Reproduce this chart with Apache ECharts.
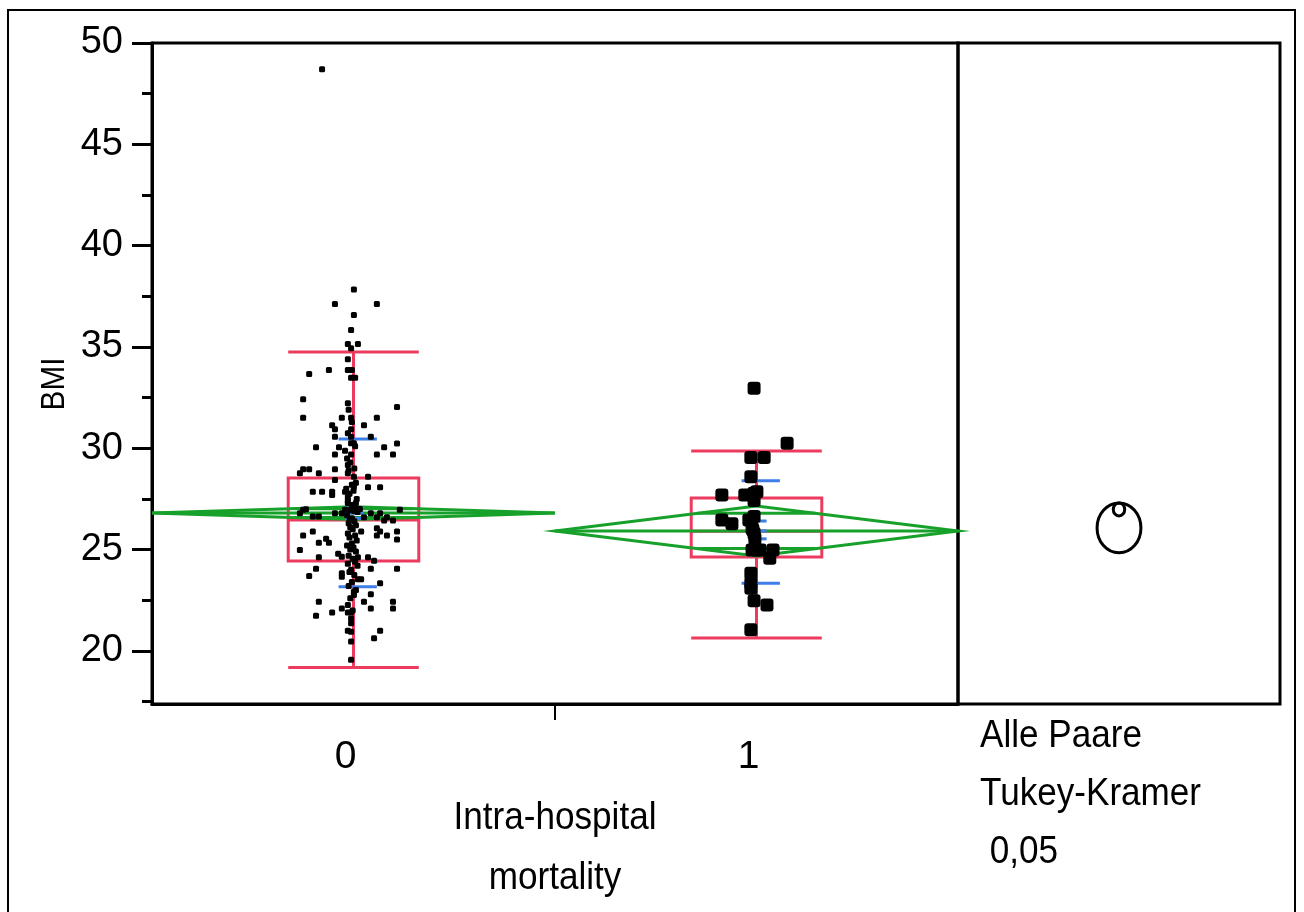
<!DOCTYPE html>
<html><head><meta charset="utf-8">
<script src="https://cdn.jsdelivr.net/npm/echarts@6/dist/echarts.min.js"></script>
<style>html,body{margin:0;padding:0;background:#fff}#c{width:1304px;height:912px}</style>
</head><body><div id="c"></div>
<script>
// ---------- data ----------
const categories = ['0', '1'];
const yTickValues = [20, 25, 30, 35, 40, 45, 50];
const yMinorTickValues = [17.5, 22.5, 27.5, 32.5, 37.5, 42.5, 47.5];
const boxLow = [19.18, 20.64];
const boxQ1 = [24.44, 24.64];
const boxMedian = [26.46, 25.9];
const boxQ3 = [28.53, 27.55];
const boxHigh = [34.75, 29.87];
const groupMeans = [26.8, 25.92];
const meanCIHalf = [0.31, 1.23];
const sdUpper = [30.46, 28.4];
const sdLower = [23.17, 23.34];
const seUpper = [27.06, 26.41];
const seLower = [26.54, 25.53];
const circleCenters = [26.98, 26.07];
const circleRadii = [0.32, 1.23];
const yTitle = 'BMI';
const xTitleLines = ['Intra-hospital', 'mortality'];
const panelLines = ['Alle Paare', 'Tukey-Kramer', ' 0,05'];

// group 0 points: jitter (category units) and BMI
const g0Jitter = [-0.078,0.001,-0.046,0.058,0.001,-0.006,-0.014,0.011,-0.006,-0.014,
  -0.110,-0.061,-0.014,-0.004,-0.006,0.004,-0.125,0.108,-0.014,-0.125,
  -0.029,-0.006,0.058,-0.053,-0.046,-0.006,0.026,-0.046,-0.014,-0.006,
  0.043,-0.093,-0.036,-0.006,0.001,0.108,0.076,-0.046,-0.021,-0.006,
  0.058,0.098,-0.125,-0.110,-0.133,-0.086,-0.046,-0.014,0.036,-0.046,
  -0.014,0.001,-0.101,-0.078,-0.053,-0.053,-0.021,-0.014,0.001,0.036,
  0.066,-0.014,-0.004,0.006,0.016,-0.125,-0.118,-0.133,-0.101,-0.086,
  -0.046,-0.029,-0.021,-0.009,0.001,0.026,0.043,0.058,0.066,0.076,
  0.083,0.098,0.115,-0.101,-0.125,-0.086,-0.068,-0.061,-0.133,0.019,
  0.058,0.066,0.058,0.083,0.108,0.108,-0.038,-0.029,-0.086,0.011,
  0.036,0.051,-0.093,-0.110,0.043,0.108,-0.029,-0.029,0.011,0.019,
  0.066,0.001,0.001,0.043,-0.086,0.026,0.098,0.098,-0.014,-0.029,
  -0.053,-0.093,-0.014,-0.006,0.043,-0.006,-0.014,-0.006,0.066,0.051,
  -0.006,-0.006,
  -0.012,-0.004,0.004,-0.016,-0.008,0.002,-0.012,0.006,-0.004,-0.018,
  0.000,-0.010,0.008,-0.014,-0.002,0.004,-0.008,0.010,-0.016,-0.004,
  0.002,-0.012,0.006,-0.008,-0.002,-0.014,0.004,-0.010,0.008,-0.004,
  -0.016,0.000,-0.008,0.006,-0.012,-0.002,0.004,-0.014,0.010,-0.006,
  -0.010,0.002,-0.004,-0.012,0.006,-0.008,-0.002,-0.006];
const g0Values = [48.71,37.84,37.12,37.12,36.58,35.84,35.15,35.15,34.93,34.39,
  33.67,33.86,33.86,33.86,33.48,33.48,32.42,32.04,32.22,31.51,
  31.51,31.51,31.51,31.13,30.94,30.94,31.13,30.57,30.74,30.57,
  30.57,30.05,30.05,30.25,30.25,30.23,30.05,29.69,29.88,29.69,
  29.69,29.69,28.96,28.96,28.77,28.77,28.96,29.18,28.6,28.44,
  28.77,28.6,27.86,27.86,27.86,27.7,27.86,27.6,28.11,28.08,
  28.08,27.3,27.1,27.3,27.0,26.96,26.99,26.79,26.63,26.63,
  26.79,26.79,26.96,26.5,26.9,26.6,26.79,26.6,26.79,26.43,
  26.6,26.43,26.96,25.89,25.69,25.34,25.53,25.34,24.98,25.89,
  26.05,25.89,25.69,25.69,25.89,25.5,24.8,24.65,24.62,24.62,
  24.62,24.45,24.06,23.7,24.06,24.06,23.83,23.66,23.54,23.54,
  23.34,22.92,22.76,22.8,22.43,22.43,22.43,22.09,22.26,22.09,
  21.89,21.73,21.89,21.89,22.09,21.37,21.0,20.95,21.0,20.63,
  20.46,19.56,
  31.9,31.3,30.1,29.5,29.3,29.0,28.9,28.3,28.2,28.0,
  27.9,27.75,27.5,27.4,27.2,27.05,26.95,26.85,26.7,26.55,
  26.4,26.3,26.2,26.1,26.0,25.8,25.7,25.6,25.45,25.3,
  25.2,25.1,25.0,24.9,24.7,24.55,24.4,24.3,24.2,24.0,
  23.9,23.75,23.4,23.2,23.0,22.6,22.0,21.6];
// group 1 points
const g1Jitter = [-0.006,0.076,-0.014,0.019,-0.014,-0.086,-0.029,-0.006,0.001,-0.006,
  -0.086,-0.061,-0.019,-0.006,-0.011,-0.009,-0.006,-0.004,-0.011,0.001,
  0.009,0.041,0.033,-0.014,-0.014,-0.014,-0.006,0.026,-0.014];
const g1Values = [32.96,30.25,29.54,29.54,28.6,27.7,27.7,27.78,27.86,27.42,
  26.46,26.27,26.46,26.63,26.05,25.97,25.8,25.55,24.98,24.98,
  24.98,24.98,24.57,23.83,23.34,23.09,22.47,22.27,21.04];

// ---------- chart ----------
const FONT = '"Liberation Sans", Arial, sans-serif';
const RED = '#EC3B5F', GREEN = '#17A12A', BLUE = '#3D7EE8';
const Y_MIN = 17.38, Y_MAX = 50;

const chart = echarts.init(document.getElementById('c'), null, {renderer: 'canvas'});

function seg(p1, p2, color, w) {
  return {type: 'line', shape: {x1: p1[0], y1: p1[1], x2: p2[0], y2: p2[1]},
    style: {stroke: color, lineWidth: w}};
}

const boxData = categories.map((c, i) => [i, boxLow[i], boxQ1[i], boxMedian[i], boxQ3[i], boxHigh[i]]);
const diamondData = categories.map((c, i) => [i, groupMeans[i], meanCIHalf[i]]);
const sdData = categories.map((c, i) => [i, sdUpper[i], sdLower[i], seUpper[i], seLower[i], groupMeans[i]]);
const circleData = circleCenters.map((m, i) => [0.5, m, circleRadii[i]]);
const g0Points = g0Values.map((v, i) => [0 + g0Jitter[i], v]);
const g1Points = g1Values.map((v, i) => [1 + g1Jitter[i], v]);

function narrowText(t, x, y, align, size, rot) {
  return {type: 'text', x: x, y: y, scaleX: 0.9, rotation: rot || 0, silent: true,
    style: {text: t, font: size + 'px ' + FONT, fill: '#000', align: align, verticalAlign: 'middle'}};
}

const option = {
  animation: false,
  backgroundColor: '#fff',
  textStyle: {fontFamily: FONT},
  graphic: [
    {type: 'rect', shape: {x: 8, y: 10, width: 1287, height: 930},
      style: {fill: 'none', stroke: '#000', lineWidth: 2}, silent: true},
    ...xTitleLines.map((t, i) => narrowText(t, 555, 818 + i * 60, 'center', 39)),
    ...panelLines.map((t, i) => narrowText(t, 980, 736 + i * 58, 'left', 39)),
    {type: 'text', x: 55, y: 384, rotation: Math.PI / 2, scaleX: 0.9, silent: true,
      style: {text: yTitle, font: '33px ' + FONT, fill: '#000', align: 'center', verticalAlign: 'middle'}}
  ],
  grid: [
    {left: 152, top: 43, width: 806, height: 661, show: true, borderColor: '#000', borderWidth: 3,
      outerBoundsMode: 'none', containLabel: false},
    {left: 958, top: 43, width: 322, height: 661, show: true, borderColor: '#000', borderWidth: 3,
      outerBoundsMode: 'none', containLabel: false}
  ],
  xAxis: [
    {gridIndex: 0, type: 'value', min: -0.5, max: 1.5,
      axisLine: {show: true, onZero: false, lineStyle: {color: '#000', width: 3}},
      axisTick: {show: true, customValues: [0.5], length: 16, lineStyle: {color: '#000', width: 2}},
      axisLabel: {customValues: [0, 1], formatter: v => categories[Math.round(v)],
        fontSize: 39, color: '#000', fontFamily: FONT, margin: 34, padding: [0, 16, 0, 0]},
      splitLine: {show: false}},
    {gridIndex: 1, type: 'value', min: 0, max: 1, show: false}
  ],
  yAxis: [
    {gridIndex: 0, type: 'value', min: Y_MIN, max: Y_MAX,
      axisLine: {show: true, onZero: false, lineStyle: {color: '#000', width: 3}},
      axisTick: {show: true, customValues: yTickValues, length: 20, lineStyle: {color: '#000', width: 3}},
      axisLabel: {customValues: yTickValues, fontSize: 38, color: '#000', fontFamily: FONT, margin: 29},
      splitLine: {show: false}},
    {gridIndex: 0, type: 'value', min: Y_MIN, max: Y_MAX, position: 'left',
      axisLine: {show: false, onZero: false},
      axisTick: {show: true, customValues: yMinorTickValues, length: 10, lineStyle: {color: '#000', width: 3}},
      axisLabel: {show: false}, splitLine: {show: false}},
    {gridIndex: 1, type: 'value', min: Y_MIN, max: Y_MAX, show: false}
  ],
  series: [
    {type: 'custom', name: 'box', xAxisIndex: 0, yAxisIndex: 0, z: 2,
      data: boxData,
      renderItem: (params, api) => {
        const x = api.value(0);
        const hw = api.size([0.162, 0])[0];
        const pLow = api.coord([x, api.value(1)]);
        const pQ1 = api.coord([x, api.value(2)]);
        const pMed = api.coord([x, api.value(3)]);
        const pQ3 = api.coord([x, api.value(4)]);
        const pHigh = api.coord([x, api.value(5)]);
        const cx = pLow[0];
        return {type: 'group', children: [
          seg([cx, pHigh[1]], [cx, pQ3[1]], RED, 3),
          seg([cx, pQ1[1]], [cx, pLow[1]], RED, 3),
          seg([cx - hw, pHigh[1]], [cx + hw, pHigh[1]], RED, 3),
          seg([cx - hw, pLow[1]], [cx + hw, pLow[1]], RED, 3),
          {type: 'rect', shape: {x: cx - hw, y: pQ3[1], width: 2 * hw, height: pQ1[1] - pQ3[1]},
            style: {fill: 'none', stroke: RED, lineWidth: 3}},
          seg([cx - hw, pMed[1]], [cx + hw, pMed[1]], RED, 3)
        ]};
      }},
    {type: 'custom', name: 'diamond', xAxisIndex: 0, yAxisIndex: 0, z: 3,
      data: diamondData,
      renderItem: (params, api) => {
        const x = api.value(0), m = api.value(1), h = api.value(2);
        const L = api.coord([x - 0.5, m]), R = api.coord([x + 0.5, m]);
        const T = api.coord([x, m + h]), B = api.coord([x, m - h]);
        const o = h / Math.SQRT2, f = 0.5 * (1 - 1 / Math.SQRT2);
        const oT1 = api.coord([x - f, m + o]), oT2 = api.coord([x + f, m + o]);
        const oB1 = api.coord([x - f, m - o]), oB2 = api.coord([x + f, m - o]);
        return {type: 'group', children: [
          {type: 'polygon', shape: {points: [L, T, R, B]}, style: {fill: 'none', stroke: GREEN, lineWidth: 3}},
          seg(L, R, GREEN, 3),
          seg(oT1, oT2, GREEN, 3),
          seg(oB1, oB2, GREEN, 3)
        ]};
      }},
    {type: 'custom', name: 'sd', xAxisIndex: 0, yAxisIndex: 0, z: 4,
      data: sdData,
      renderItem: (params, api) => {
        const x = api.value(0);
        const ch = [];
        [1, 2].forEach(k => {
          ch.push(seg(api.coord([x - 0.037, api.value(k)]), api.coord([x + 0.058, api.value(k)]), BLUE, 3));
        });
        [3, 4, 5].forEach(k => {
          ch.push(seg(api.coord([x - 0.02, api.value(k)]), api.coord([x + 0.025, api.value(k)]), BLUE, 3));
        });
        return {type: 'group', children: ch};
      }},
    {type: 'scatter', name: '0', xAxisIndex: 0, yAxisIndex: 0, z: 6,
      symbol: 'roundRect', symbolSize: 6, itemStyle: {color: '#000', opacity: 1}, data: g0Points},
    {type: 'scatter', name: '1', xAxisIndex: 0, yAxisIndex: 0, z: 6,
      symbol: 'roundRect', symbolSize: 13, itemStyle: {color: '#000', opacity: 1}, data: g1Points},
    {type: 'custom', name: 'circles', xAxisIndex: 1, yAxisIndex: 2, z: 5,
      data: circleData,
      renderItem: (params, api) => {
        const c = api.coord([api.value(0), api.value(1)]);
        const ry = api.size([0, api.value(2)])[1];
        return {type: 'ellipse', shape: {cx: c[0], cy: c[1], rx: ry * 0.88, ry: ry},
          style: {fill: 'none', stroke: '#000', lineWidth: 3}};
      }}
  ]
};
chart.setOption(option);
</script>
</body></html>
